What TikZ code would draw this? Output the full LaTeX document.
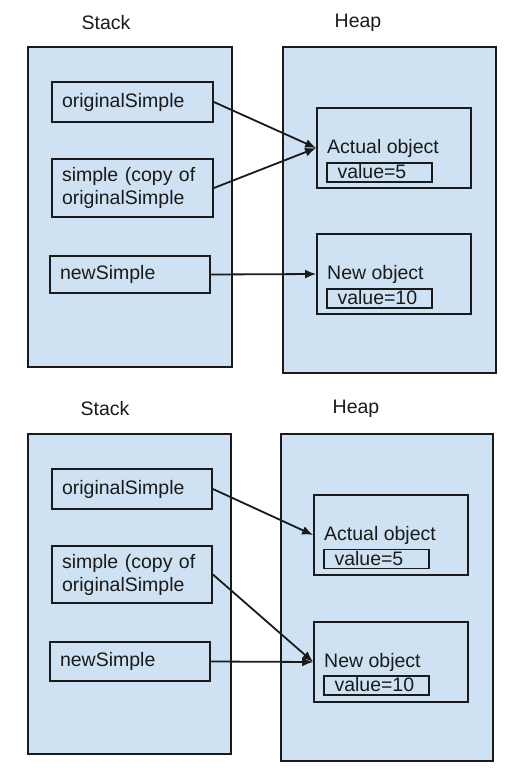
\documentclass[tikz,border=0pt]{standalone}
\usepackage{fontspec}
\setmainfont{Liberation Sans}
\usetikzlibrary{arrows.meta}
\definecolor{paleblue}{HTML}{CFE2F3}
\definecolor{ink}{HTML}{1A1A1A}
\tikzset{
  area/.style={draw=ink, line width=1.8pt, fill=paleblue},
  var/.style={draw=ink, line width=1.8pt, fill=paleblue, rectangle, align=left, inner xsep=10pt, inner ysep=0pt, font=\fontsize{19.5}{23}\selectfont, text=ink},
  obj/.style={draw=ink, line width=1.8pt, fill=paleblue, rectangle, minimum width=154pt, minimum height=80pt, inner sep=0pt},
  objtext/.style={anchor=west, inner sep=0pt, font=\fontsize{19.5}{23}\selectfont, text=ink},
  valbox/.style={draw=ink, line width=1.8pt, rectangle, minimum width=105pt, minimum height=19pt, text width=84pt, inner xsep=10.5pt, inner ysep=0pt, align=left, font=\fontsize{19.5}{23}\selectfont, text=ink, text depth=2pt},
  title/.style={font=\fontsize{19.5}{23}\selectfont, text=ink, inner sep=0pt},
  ref/.style={draw=ink, line width=1.8pt, -{Latex[length=11pt,width=9pt]}}
}
\begin{document}
\begin{tikzpicture}[x=1pt,y=-1pt]
\useasboundingbox (0,0) rectangle (529,780);

% ---------- top ----------
\node[title] (stackT) at (106,23) {Stack};
\node[title] (heapT) at (358,23) {Heap};
\draw[area] (28,47) rectangle (232,367);
\draw[area] (283,47) rectangle (496,373);

\node[var, text width=141pt, minimum height=40pt] (osA) at (132.5,102) {originalSimple};
\node[var, text width=141pt, minimum height=58pt] (simA) at (132.5,188) {simple (copy of\\originalSimple};
\node[var, text width=140pt, minimum height=37pt] (nsA) at (130,274.5) {newSimple};

\node[obj] (actA) at (394,148) {};
\node[objtext] (actAt) at (327,148) {Actual object};
\node[valbox] (valA) at (379.5,172.5) {value=5};
\node[obj] (newA) at (394,274) {};
\node[objtext] (newAt) at (327,274) {New object};
\node[valbox] (valA2) at (379.5,298.5) {value=10};

\draw[ref] (osA.east) -- (actA.west);
\draw[ref] (simA.east) -- (actA.west);
\draw[ref] (nsA.east) -- (newA.west);

% ---------- bottom ----------
\node[title] (stackB) at (105,409) {Stack};
\node[title] (heapB) at (356,409) {Heap};
\draw[area] (28,434) rectangle (231,754);
\draw[area] (281,434) rectangle (493,761);

\node[var, text width=140pt, minimum height=40pt] (osB) at (132,489) {originalSimple};
\node[var, text width=140pt, minimum height=57pt] (simB) at (132,574.5) {simple (copy of\\originalSimple};
\node[var, text width=140pt, minimum height=39pt] (nsB) at (130,661.5) {newSimple};

\node[obj] (actB) at (391,535) {};
\node[objtext] (actBt) at (324,535) {Actual object};
\node[valbox] (valB) at (376.5,559) {value=5};
\node[obj] (newB) at (391,662) {};
\node[objtext] (newBt) at (324,662) {New object};
\node[valbox] (valB2) at (376.5,685.5) {value=10};

\draw[ref] (osB.east) -- (actB.west);
\draw[ref] (simB.east) -- (newB.west);
\draw[ref] (nsB.east) -- (newB.west);
\end{tikzpicture}
\end{document}
